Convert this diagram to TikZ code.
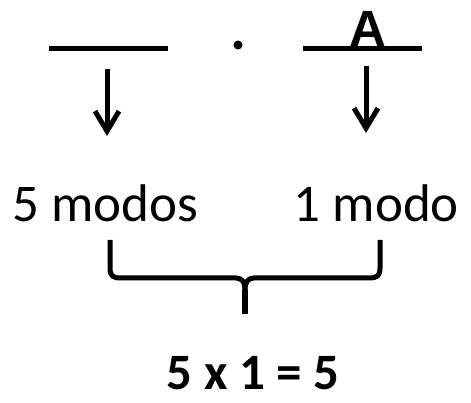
\documentclass[tikz,border=0pt]{standalone}
\usepackage{fontspec}
\setmainfont{Carlito}
\newfontfamily\arialbold{Liberation Sans}[BoldFont={Liberation Sans Bold}]
\usetikzlibrary{arrows.meta}
\begin{document}
\begin{tikzpicture}[x=1pt,y=-1pt,
  blank/.style={line width=5pt},
  downarrow/.style={line width=5pt,-{Straight Barb[length=20pt,width=24pt]}},
  bracepart/.style={line width=5pt},
  modos/.style={inner sep=0pt,font=\fontsize{53}{60}\selectfont},
  result/.style={inner sep=0pt,font=\fontsize{51}{58}\selectfont\bfseries},
  letter/.style={inner sep=0pt,font=\fontsize{51}{58}\selectfont\arialbold\bfseries}]
\useasboundingbox (0,0) rectangle (471,403);
% blanks
\coordinate (b1l) at (49,49); \coordinate (b1r) at (168,49);
\coordinate (b2l) at (303,49); \coordinate (b2r) at (422,49);
\draw[blank] (b1l) -- (b1r);
\draw[blank] (b2l) -- (b2r);
\node[letter,anchor=base] (A) at (368,47) {A};
\fill (238,45) circle (4.5pt);
% arrows
\coordinate (a1s) at (107,69); \coordinate (a1e) at (107,136);
\coordinate (a2s) at (366,66); \coordinate (a2e) at (366,133);
\draw[downarrow] (a1s) -- (a1e);
\draw[downarrow] (a2s) -- (a2e);
% texts
\node[modos,anchor=base west] (m5) at (12,222) {5 modos};
\node[modos,anchor=base east] (m1) at (459,222) {1 modo};
% brace
\coordinate (bl) at (110,240); \coordinate (br) at (380,240);
\coordinate (bc) at (245,290); \coordinate (bt) at (245,314);
\draw[bracepart,line join=round] (bl) -- (110,268) .. controls (110,276) and (113,278) .. (121,278) -- (236,278) .. controls (242,278) and (245,282) .. (bc);
\draw[bracepart,line join=round] (br) -- (380,268) .. controls (380,276) and (377,278) .. (369,278) -- (254,278) .. controls (248,278) and (245,282) .. (bc);
\draw[line width=6.5pt] (bc) -- (bt);
\node[result,anchor=base] (res) at (253,389) {5 x 1 = 5};
\end{tikzpicture}
\end{document}
